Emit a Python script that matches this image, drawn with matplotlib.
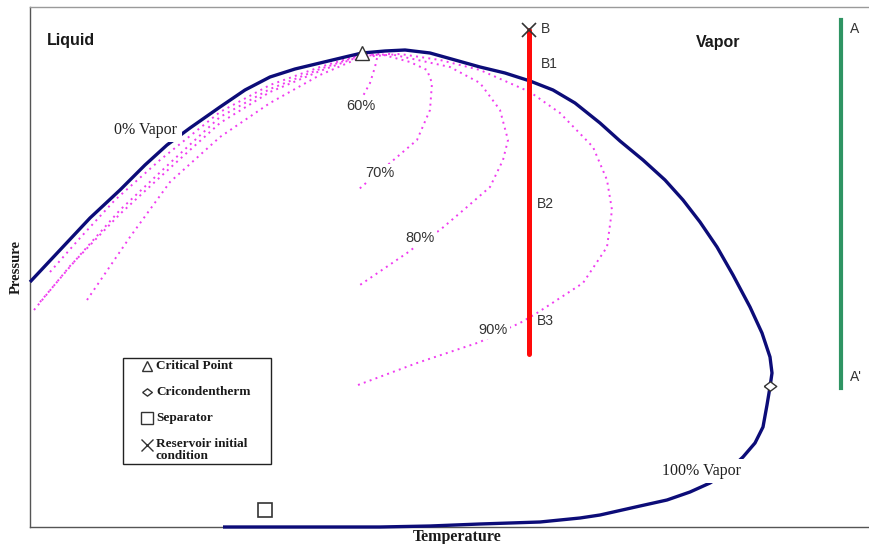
import matplotlib
matplotlib.use("Agg")
import matplotlib.pyplot as plt
from matplotlib.patches import Rectangle
from matplotlib.path import Path

# ---------------- data (temperature, pressure in arbitrary units) ----------------
env_T = [30, 60, 90, 120, 145, 167, 190, 220, 245, 270, 295, 320, 345, 362, 385, 405, 430,
         455, 480, 505, 530, 553, 575, 600, 620, 643, 665, 683, 700, 717, 733, 750, 762,
         770, 772, 770, 767, 763, 755, 743, 728, 710, 690, 667, 640, 600, 580, 540, 480,
         430, 380, 300, 223]
env_P = [262, 294, 326, 354, 379, 399, 416, 437, 454, 467, 475, 481, 487, 491, 493, 494, 491,
         484, 477, 471, 463, 454, 441, 421, 403, 384, 364, 344, 322, 297, 269, 237, 211,
         187, 171, 157, 139, 117, 101, 87, 73, 61, 52, 44, 38, 29, 26, 22, 20,
         18, 17, 17, 17]

q60_T = [50, 80, 115, 160, 220, 270, 320, 350, 362, 372, 377, 375, 370, 363]
q60_P = [272, 306, 344, 384, 432, 459, 477, 486, 490, 490, 486, 477, 461, 448]

q70_T = [40, 80, 120, 170, 220, 270, 320, 350, 362, 380, 410, 427, 432, 430, 417, 390, 374, 358]
q70_P = [242, 289, 334, 381, 427, 455, 475, 485, 489, 490, 482, 474, 461, 434, 404, 381, 368, 354]

q80_T = [34, 70, 120, 170, 220, 270, 320, 350, 362, 390, 450, 480, 500, 508, 503, 490, 467,
         440, 423, 407, 357]
q80_P = [234, 278, 330, 376, 421, 452, 473, 484, 488, 490, 477, 461, 434, 404, 384, 357, 337,
         314, 303, 291, 257]

q90_T = [87, 130, 170, 220, 270, 320, 350, 362, 400, 440, 480, 530, 560, 593, 607, 612, 607,
         583, 537, 520, 500, 480, 417, 358]
q90_P = [244, 307, 362, 407, 441, 469, 482, 487, 490, 484, 474, 452, 431, 397, 364, 334, 297,
         261, 231, 221, 212, 202, 181, 159]

quality_labels = ["60%", "70%", "80%", "90%"]
quality_label_T = [361, 380, 420, 493]
quality_label_P = [438, 371, 306, 214]

path_B_T = [529, 529]
path_B_P = [514, 190]
path_B_names = ["B", "B1", "B2", "B3"]
path_B_name_P = [515, 480, 340, 223]

path_A_T = [841, 841]
path_A_P = [524, 156]
path_A_names = ["A", "A'"]
path_A_name_P = [515, 167]

crit_T, crit_P = [362], [491]
cricon_T, cricon_P = [770], [158]
sep_T, sep_P = [265], [34]
res_T, res_P = [529], [514]

legend_labels = ["Critical Point", "Cricondentherm", "Separator", "Reservoir initial\ncondition"]

# ---------------- figure ----------------
W, H = 869, 544
fig = plt.figure(figsize=(W / 100, H / 100), dpi=100)
ax = fig.add_axes([30 / W, 17 / H, 839 / W, 520 / H])
ax.set_xlim(30, 869)
ax.set_ylim(17, 537)
ax.set_xticks([])
ax.set_yticks([])
ax.spines["right"].set_visible(False)
ax.spines["top"].set_color("#9a9a9a")
ax.spines["left"].set_color("#555555")
ax.spines["bottom"].set_color("#555555")
for s in ["top", "left", "bottom"]:
    ax.spines[s].set_linewidth(1.0)

sans = "Liberation Sans"
serif = "Liberation Serif"
navy = "#0c0c78"
mag = "#f03cf0"

# quality lines
for T, P in [(q60_T, q60_P), (q70_T, q70_P), (q80_T, q80_P), (q90_T, q90_P)]:
    ax.plot(T, P, color=mag, lw=1.4, linestyle=(0, (1, 2.2)), zorder=2)

# envelope
ax.plot(env_T, env_P, color=navy, lw=2.4, solid_joinstyle="round", solid_capstyle="butt",
        zorder=3, clip_on=False)

# production paths
ax.plot(path_B_T, path_B_P, color="#ff0a0a", lw=3.6, zorder=4, solid_capstyle="round")
ax.plot(path_A_T, path_A_P, color="#2f9463", lw=3.0, zorder=4)

# markers
ax.plot(crit_T, crit_P, marker="^", ms=10, mfc="white", mec="#333333", mew=1.0, ls="none", zorder=6)
dia = Path([(-1, 0), (0, 0.75), (1, 0), (0, -0.75), (-1, 0)])
ax.plot(cricon_T, cricon_P, marker=dia, ms=9, mfc="white", mec="#333333", mew=1.0, ls="none", zorder=6)
ax.plot(sep_T, sep_P, marker="s", ms=9.5, mfc="white", mec="#333333", mew=1.2, ls="none", zorder=6)
ax.plot(res_T, res_P, marker="x", ms=10, mec="#333333", mew=1.2, ls="none", zorder=6)

# labels
wb = dict(facecolor="white", edgecolor="none", pad=1.5)
for lab, t, p in zip(quality_labels, quality_label_T, quality_label_P):
    ax.text(t, p, lab, family=sans, fontsize=10.5, color="#333333", ha="center", va="center",
            bbox=wb, zorder=5)

ax.text(146, 414, "0% Vapor", family=serif, fontsize=11.5, color="#222222", ha="center",
        va="center", bbox=dict(facecolor="white", edgecolor="none", pad=3), zorder=5)
ax.text(702, 73, "100% Vapor", family=serif, fontsize=11.5, color="#222222", ha="center",
        va="center", bbox=dict(facecolor="white", edgecolor="none", pad=3), zorder=5)

for lab, p in zip(path_B_names, path_B_name_P):
    ax.text(541 if lab in ("B", "B1") else 537, p, lab, family=sans, fontsize=10,
            color="#333333", ha="left", va="center", zorder=5)
for lab, p in zip(path_A_names, path_A_name_P):
    ax.text(850, p, lab, family=sans, fontsize=10, color="#333333", ha="left", va="center", zorder=5)

ax.text(47, 503, "Liquid", family=sans, fontsize=11.5, fontweight="bold", color="#1a1a1a",
        ha="left", va="center")
ax.text(718, 502, "Vapor", family=sans, fontsize=11.5, fontweight="bold", color="#1a1a1a",
        ha="center", va="center")

fig.text(16 / W, 1 - 267 / H, "Pressure", family=serif, fontsize=10.5, fontweight="bold",
         rotation=90, ha="center", va="center", color="#1a1a1a")
fig.text(457 / W, 1 - 537 / H, "Temperature", family=serif, fontsize=11.5, fontweight="bold",
         ha="center", va="center", color="#1a1a1a")

# legend box (manual)
def px(x, y):
    return x, 544 - y

x0, y0 = px(123, 464)
ax.add_patch(Rectangle((x0, y0), 148, 106, facecolor="white", edgecolor="#222222", lw=1.0, zorder=6))
leg_markers = ["^", dia, "s", "x"]
leg_ms = [7, 7, 8, 8]
leg_y = [366, 392, 418, 445]
for m, ms, yy, lab in zip(leg_markers, leg_ms, leg_y, legend_labels):
    xm, ym = px(147, yy)
    if m == "x":
        ax.plot([xm], [ym], marker=m, ms=ms, mec="#333333", mew=1.0, ls="none", zorder=7)
    else:
        ax.plot([xm], [ym], marker=m, ms=ms, mfc="white", mec="#333333", mew=1.0, ls="none", zorder=7)
    xt, yt = px(156, yy)
    ax.text(xt, yt, lab, family=serif, fontsize=9.5, fontweight="bold", color="#1a1a1a",
            ha="left", va="top" if "\n" in lab else "center", linespacing=0.95, zorder=7,
            transform=ax.transData) if "\n" not in lab else ax.text(
        xt, yt + 7, lab, family=serif, fontsize=9.5, fontweight="bold", color="#1a1a1a",
        ha="left", va="top", linespacing=0.95, zorder=7)

fig.savefig("out.png", dpi=100, facecolor="white")
